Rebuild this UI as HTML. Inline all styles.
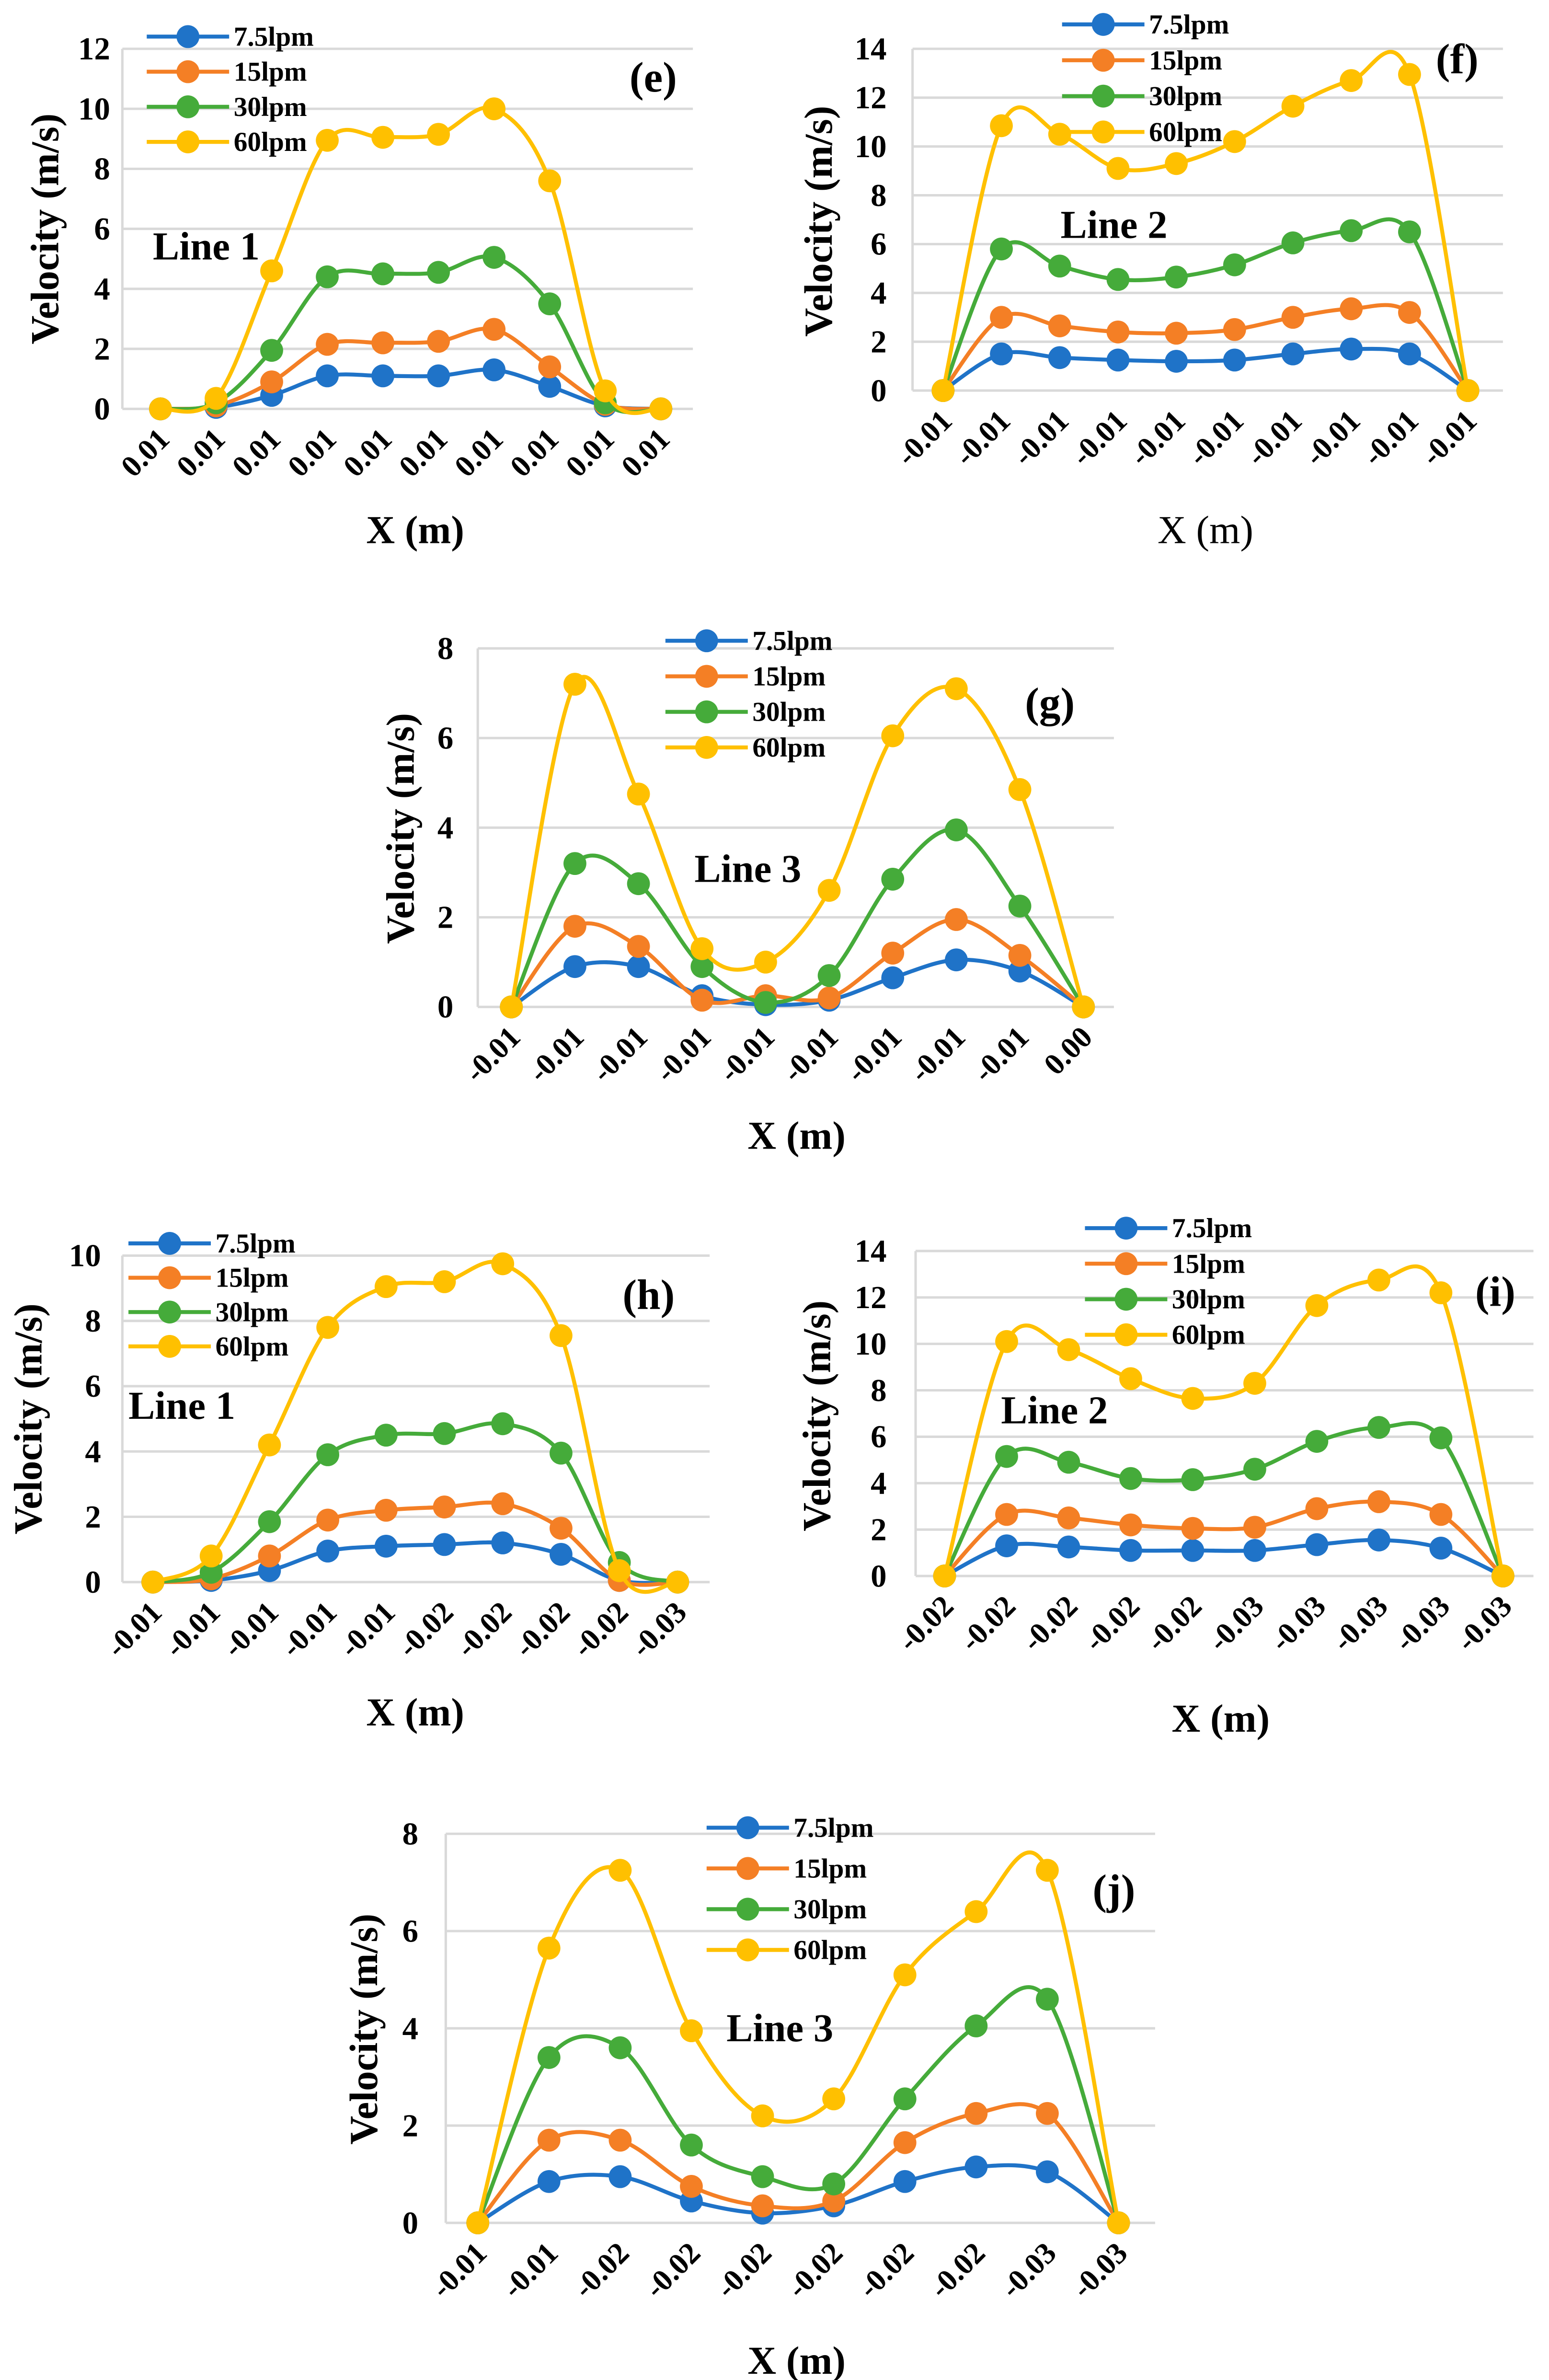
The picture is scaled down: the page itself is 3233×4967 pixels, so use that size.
<!DOCTYPE html>
<html><head><meta charset="utf-8"><style>
html,body{margin:0;padding:0;background:#fff}
svg{display:block}
text{font-family:"Liberation Serif",serif;font-weight:bold;fill:#000}
</style></head><body>
<svg id="fig" xmlns="http://www.w3.org/2000/svg" width="3233" height="4967" viewBox="0 0 1015 1560"></svg>
<script>
const seriesNames=["7.5lpm","15lpm","30lpm","60lpm"];
const seriesColors=["#1F73C8","#F47F25","#45AB3A","#FFC000"];
const eLabels=["0.01","0.01","0.01","0.01","0.01","0.01","0.01","0.01","0.01","0.01"];
const e75=[0,0.05,0.45,1.1,1.1,1.1,1.3,0.75,0.1,0];
const e15=[0,0.1,0.9,2.15,2.2,2.25,2.65,1.4,0.15,0];
const e30=[0,0.2,1.95,4.4,4.5,4.55,5.05,3.5,0.2,0];
const e60=[0,0.35,4.6,8.95,9.05,9.15,10.0,7.6,0.6,0];
const fLabels=["-0.01","-0.01","-0.01","-0.01","-0.01","-0.01","-0.01","-0.01","-0.01","-0.01"];
const f75=[0,1.5,1.35,1.25,1.2,1.25,1.5,1.7,1.5,0];
const f15=[0,3.0,2.65,2.4,2.35,2.5,3.0,3.35,3.2,0];
const f30=[0,5.8,5.1,4.55,4.65,5.15,6.05,6.55,6.5,0];
const f60=[0,10.85,10.5,9.1,9.3,10.2,11.65,12.7,12.95,0];
const gLabels=["-0.01","-0.01","-0.01","-0.01","-0.01","-0.01","-0.01","-0.01","-0.01","0.00"];
const g75=[0,0.9,0.9,0.25,0.05,0.15,0.65,1.05,0.8,0];
const g15=[0,1.8,1.35,0.15,0.25,0.2,1.2,1.95,1.15,0];
const g30=[0,3.2,2.75,0.9,0.1,0.7,2.85,3.95,2.25,0];
const g60=[0,7.2,4.75,1.3,1.0,2.6,6.05,7.1,4.85,0];
const hLabels=["-0.01","-0.01","-0.01","-0.01","-0.01","-0.02","-0.02","-0.02","-0.02","-0.03"];
const h75=[0,0.05,0.35,0.95,1.1,1.15,1.2,0.85,0.05,0];
const h15=[0,0.1,0.8,1.9,2.2,2.3,2.4,1.65,0.05,0];
const h30=[0,0.3,1.85,3.9,4.5,4.55,4.85,3.95,0.6,0];
const h60=[0,0.8,4.2,7.8,9.05,9.2,9.75,7.55,0.35,0];
const iLabels=["-0.02","-0.02","-0.02","-0.02","-0.02","-0.03","-0.03","-0.03","-0.03","-0.03"];
const i75=[0,1.3,1.25,1.1,1.1,1.1,1.35,1.55,1.2,0];
const i15=[0,2.65,2.5,2.2,2.05,2.1,2.9,3.2,2.65,0];
const i30=[0,5.15,4.9,4.2,4.15,4.6,5.8,6.4,5.95,0];
const i60=[0,10.1,9.75,8.5,7.65,8.3,11.65,12.75,12.2,0];
const jLabels=["-0.01","-0.01","-0.02","-0.02","-0.02","-0.02","-0.02","-0.02","-0.03","-0.03"];
const j75=[0,0.85,0.95,0.45,0.2,0.35,0.85,1.15,1.05,0];
const j15=[0,1.7,1.7,0.75,0.35,0.45,1.65,2.25,2.25,0];
const j30=[0,3.4,3.6,1.6,0.95,0.8,2.55,4.05,4.6,0];
const j60=[0,5.65,7.25,3.95,2.2,2.55,5.1,6.4,7.25,0];

const NS="http://www.w3.org/2000/svg";
const fig=document.getElementById('fig');
function mk(tag,attrs,parent){const el=document.createElementNS(NS,tag);for(const k in attrs)el.setAttribute(k,attrs[k]);(parent||fig).appendChild(el);return el;}
function txt(s,attrs,parent){const t=mk('text',attrs,parent);t.textContent=s;return t;}

const panels=[
 {id:'e',labels:eLabels,series:[e75,e15,e30,e60],ymax:12,y0:268,yTop:32,x0:105,x1:433,axL:80,axR:454,tickX:72,ytX:38,ytY:150,xtX:272,xtY:356,xtBold:true,leg:[100,24,23],tag:[428,60],line:[100,170,'Line 1']},
 {id:'f',labels:fLabels,series:[f75,f15,f30,f60],ymax:14,y0:256,yTop:32,x0:618,x1:962,axL:598,axR:985,tickX:581,ytX:545,ytY:145,xtX:790,xtY:356,xtBold:false,leg:[700,16,23.5],tag:[955,48],line:[695,156,'Line 2']},
 {id:'g',labels:gLabels,series:[g75,g15,g30,g60],ymax:8,y0:660,yTop:425,x0:335,x1:710,axL:313,axR:730,tickX:297,ytX:271,ytY:543,xtX:522,xtY:753,xtBold:true,leg:[440,420,23.3],tag:[688,470],line:[455,578,'Line 3']},
 {id:'h',labels:hLabels,series:[h75,h15,h30,h60],ymax:10,y0:1037,yTop:823,x0:100,x1:444,axL:80,axR:465,tickX:66,ytX:27,ytY:930,xtX:272,xtY:1131,xtBold:true,leg:[88,815,22.5],tag:[425,858],line:[84,930,'Line 1']},
 {id:'i',labels:iLabels,series:[i75,i15,i30,i60],ymax:14,y0:1033,yTop:820,x0:619,x1:985,axL:600,axR:1005,tickX:581,ytX:544,ytY:928,xtX:800,xtY:1135,xtBold:true,leg:[715,805,23.3],tag:[980,856],line:[656,933,'Line 2']},
 {id:'j',labels:jLabels,series:[j75,j15,j30,j60],ymax:8,y0:1457,yTop:1202,x0:313,x1:733,axL:292,axR:757,tickX:274,ytX:247,ytY:1330,xtX:522,xtY:1556,xtBold:true,leg:[467,1198,26.7],tag:[730,1248],line:[476,1338,'Line 3']}
];

function smoothPath(pts){
  let d='M'+pts[0][0].toFixed(2)+','+pts[0][1].toFixed(2);
  for(let k=0;k<pts.length-1;k++){
    const p0=pts[k-1]||pts[k],p1=pts[k],p2=pts[k+1],p3=pts[k+2]||p2;
    const t=1/6;
    const c1=[p1[0]+(p2[0]-p0[0])*t,p1[1]+(p2[1]-p0[1])*t];
    const c2=[p2[0]-(p3[0]-p1[0])*t,p2[1]-(p3[1]-p1[1])*t];
    d+=' C'+c1.map(v=>v.toFixed(2)).join(',')+' '+c2.map(v=>v.toFixed(2)).join(',')+' '+p2[0].toFixed(2)+','+p2[1].toFixed(2);
  }
  return d;
}

panels.forEach(p=>{
  const g=mk('g',{});
  
  
  const n=p.labels.length;
  const xS=i=>p.x0+(p.x1-p.x0)*i/(n-1);
  const yS=v=>p.y0-(p.y0-p.yTop)*v/p.ymax;
  for(let v=0;v<=p.ymax;v+=2){
    const gl=mk('line',{x1:p.axL,x2:p.axR,y1:yS(v),y2:yS(v),stroke:'#d9d9d9','stroke-width':1.6},g);
    
    
    const tl=txt(String(v),{x:p.tickX,y:yS(v)+7,'text-anchor':'end','font-size':21},g);
    
    
  }
  const ax=mk('line',{x1:p.axL,x2:p.axL,y1:p.yTop,y2:p.y0,stroke:'#d9d9d9','stroke-width':1.6},g);
  
  
  p.labels.forEach((l,i)=>{
    const x=xS(i)+7,y=p.y0+21;
    const t=txt(l,{x:x,y:y,'text-anchor':'end','font-size':20,transform:'rotate(-45 '+x+' '+y+')'},g);
    
    
  });
  const yt=txt('Velocity (m/s)',{x:p.ytX,y:p.ytY,'text-anchor':'middle','font-size':26,transform:'rotate(-90 '+p.ytX+' '+p.ytY+')'},g);
  
  
  const xt=txt('X (m)',{x:p.xtX,y:p.xtY,'text-anchor':'middle','font-size':26},g);
  if(!p.xtBold) xt.setAttribute('style','font-weight:normal');
  
  
  p.series.forEach((s,si)=>{
    const pts=s.map((v,i)=>[xS(i),yS(v)]);
    const path=mk('path',{d:smoothPath(pts),fill:'none',stroke:seriesColors[si],'stroke-width':2.6},g);
    
    
    pts.forEach(pt=>{
      const c=mk('circle',{cx:pt[0],cy:pt[1],r:7.5,fill:seriesColors[si]},g);
      
      
    });
  });
  seriesNames.forEach((nm,si)=>{
    const lx=p.leg[0],ly=p.leg[1]+si*p.leg[2];
    const lg=mk('g',{},g);
    
    
    mk('line',{x1:lx-4,x2:lx+50,y1:ly,y2:ly,stroke:seriesColors[si],'stroke-width':2.6},lg);
    mk('circle',{cx:lx+23,cy:ly,r:7.5,fill:seriesColors[si]},lg);
    txt(nm,{x:lx+53,y:ly+6,'font-size':18},lg);
  });
  const tg=txt('('+p.id+')',{x:p.tag[0],y:p.tag[1],'text-anchor':'middle','font-size':28},g);
  
  
  const ln=txt(p.line[2],{x:p.line[0],y:p.line[1],'font-size':26},g);
  
  
});
</script>
</body></html>
